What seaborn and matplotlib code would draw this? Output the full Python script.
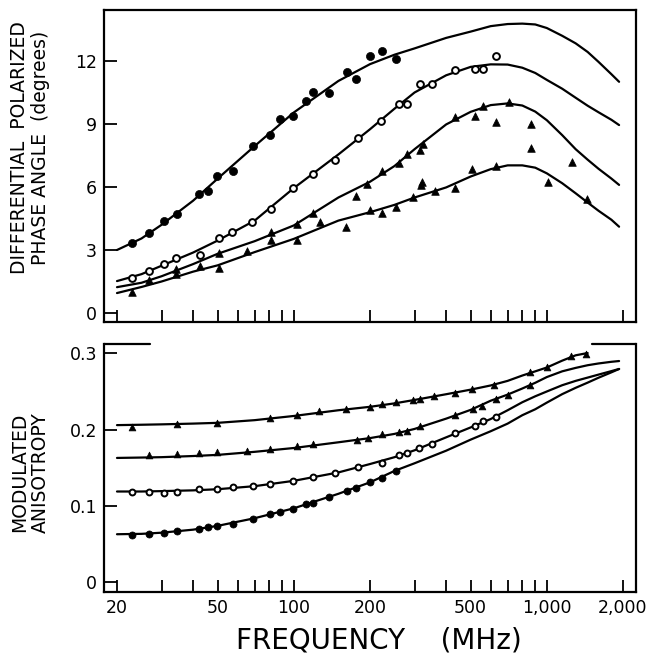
import numpy as np
import pandas as pd
import matplotlib
matplotlib.use("Agg")
import matplotlib.pyplot as plt
import matplotlib.ticker as mticker
import seaborn as sns

# ---------------- data ----------------
curve_freq = [20, 25, 30, 40, 50, 70, 100, 150, 200, 250, 300, 400, 500, 600, 700, 800,
              900, 1000, 1150, 1300, 1450, 1600, 1800, 1930]

# top panel: differential polarized phase angle (degrees)
curve_A = [3.0, 3.55, 4.2, 5.35, 6.4, 7.95, 9.55, 11.05, 11.85, 12.3, 12.6, 13.1, 13.4, 13.66, 13.76, 13.78,
           13.74, 13.57, 13.2, 12.84, 12.43, 11.96, 11.37, 11.01]
curve_B = [1.52, 1.85, 2.25, 2.88, 3.45, 4.4, 5.95, 7.55, 8.75, 9.73, 10.5, 11.32, 11.72, 11.84, 11.83, 11.68,
           11.43, 11.1, 10.68, 10.25, 9.87, 9.56, 9.2, 8.95]
curve_C = [1.23, 1.44, 1.75, 2.33, 2.82, 3.42, 4.17, 5.5, 6.25, 7.0, 7.8, 8.98, 9.58, 9.9, 9.98, 9.88,
           9.59, 9.18, 8.47, 7.8, 7.3, 6.87, 6.4, 6.1]
curve_D = [0.95, 1.24, 1.5, 1.97, 2.27, 2.9, 3.53, 4.4, 4.8, 5.15, 5.5, 5.98, 6.5, 6.85, 7.03, 7.03,
           6.92, 6.65, 6.18, 5.7, 5.26, 4.87, 4.44, 4.11]

pts_A_f = [22.9, 26.8, 30.7, 34.4, 42.1, 45.9, 49.7, 57.3, 69.2, 80.5, 88.2, 98.9, 111.4, 118.7, 137.7, 161.8, 176.6, 200, 222.4, 252.7]
pts_A_v = [3.35, 3.80, 4.38, 4.71, 5.68, 5.79, 6.54, 6.76, 7.97, 8.46, 9.22, 9.38, 10.11, 10.54, 10.49, 11.48, 11.14, 12.24, 12.46, 12.11]

pts_B_f = [23.0, 26.8, 30.7, 34.3, 42.5, 50.6, 57.2, 68.5, 81, 99.6, 118.7, 145, 179.8, 222, 261, 280.8, 315.4, 352.6, 434.8, 520, 561, 629.5]
pts_B_v = [1.65, 2.0, 2.33, 2.60, 2.76, 3.56, 3.87, 4.32, 4.94, 5.94, 6.62, 7.29, 8.32, 9.12, 9.94, 9.97, 10.90, 10.92, 11.57, 11.60, 11.60, 12.24]

pts_C_f = [26.8, 34.3, 50.6, 81.0, 103.2, 118.7, 176.1, 195.1, 222.4, 261, 279.3, 315.4, 323.1, 434.8, 520, 561, 629.5, 708.8, 865.6, 865.6, 1260]
pts_C_v = [1.57, 2.09, 2.87, 3.87, 4.23, 4.78, 5.57, 6.14, 6.78, 7.13, 7.57, 7.76, 8.05, 9.32, 9.38, 9.86, 9.11, 10.03, 8.98, 7.87, 7.2]

pts_D_f = [23.0, 34.3, 42.5, 50.6, 65.1, 81.0, 103.2, 126.9, 160.7, 200, 222.4, 253.4, 296.6, 318, 322, 361.4, 434.8, 507.4, 629.5, 1013, 1437]
pts_D_v = [1.01, 1.86, 2.24, 2.16, 2.95, 3.48, 3.48, 4.35, 4.08, 4.90, 4.77, 5.03, 5.51, 6.1, 6.25, 5.81, 5.94, 6.86, 7.0, 6.25, 5.41]

# bottom panel: modulated anisotropy
curve_E_f = [20, 25, 30, 40, 50, 70, 100, 150, 200, 250, 300, 400, 500, 600, 700, 800,
             900, 1000, 1150, 1300, 1450]
curve_E = [0.206, 0.2065, 0.207, 0.208, 0.209, 0.2125, 0.218, 0.2255, 0.230, 0.2345, 0.239, 0.2465, 0.2525, 0.258, 0.264, 0.271,
           0.2765, 0.2815, 0.2905, 0.2975, 0.3005]
curve_F = [0.163, 0.1635, 0.164, 0.1655, 0.167, 0.171, 0.176, 0.1835, 0.189, 0.1945, 0.201, 0.2145, 0.226, 0.238, 0.246, 0.254,
           0.2615, 0.269, 0.2765, 0.281, 0.2845, 0.2868, 0.289, 0.290]
curve_G = [0.119, 0.119, 0.1195, 0.1205, 0.122, 0.126, 0.133, 0.144, 0.155, 0.164, 0.173, 0.190, 0.203, 0.214, 0.2255, 0.236,
           0.2438, 0.2501, 0.2583, 0.264, 0.2683, 0.2722, 0.2768, 0.2796]
curve_H = [0.063, 0.0635, 0.065, 0.069, 0.074, 0.084, 0.097, 0.116, 0.131, 0.146, 0.156, 0.1725, 0.187, 0.198, 0.208, 0.219,
           0.2268, 0.2355, 0.2466, 0.2549, 0.2617, 0.2681, 0.2752, 0.2796]

pts_E_f = [22.9, 34.6, 49.7, 80.5, 103.2, 126.1, 160.7, 200, 222.4, 252.7, 295, 315.4, 358, 432.4, 504.7, 620, 858, 1004, 1243, 1428]
pts_E_v = [0.2035, 0.207, 0.209, 0.215, 0.2197, 0.2245, 0.2276, 0.2302, 0.2337, 0.2363, 0.2385, 0.2402, 0.2442, 0.2485, 0.2537, 0.2586, 0.2752, 0.2826, 0.2966, 0.2992]

pts_F_f = [26.8, 34.6, 42.1, 49.7, 65.1, 80.5, 103.2, 118.7, 177.2, 196, 222.4, 261, 279.3, 315.4, 434, 512, 555, 632, 704, 858]
pts_F_v = [0.1668, 0.168, 0.169, 0.1703, 0.1725, 0.1751, 0.1782, 0.1808, 0.1865, 0.1891, 0.194, 0.1974, 0.1987, 0.2049, 0.2193, 0.2267, 0.2311, 0.2398, 0.2455, 0.2586]

pts_G_f = [22.9, 26.8, 30.7, 34.4, 42.1, 49.7, 57.3, 69.2, 80.5, 98.9, 118.7, 145.8, 179.8, 222.4, 261, 279.3, 312.5, 350.7, 434, 520, 561, 632]
pts_G_v = [0.1184, 0.1188, 0.1175, 0.1188, 0.1219, 0.1219, 0.1253, 0.1262, 0.1284, 0.1328, 0.1384, 0.1428, 0.1515, 0.1568, 0.1668, 0.1691, 0.1756, 0.1813, 0.1961, 0.2049, 0.2114, 0.217]

pts_H_f = [22.9, 26.8, 30.7, 34.4, 42.1, 45.9, 49.7, 57.3, 69.2, 80.5, 88.2, 98.9, 111.4, 118.7, 137.7, 161.8, 176.6, 200, 222.4, 252.7]
pts_H_v = [0.0624, 0.0633, 0.065, 0.0668, 0.0703, 0.0721, 0.0742, 0.0764, 0.0834, 0.0895, 0.0917, 0.0961, 0.1022, 0.1043, 0.1114, 0.1201, 0.124, 0.1318, 0.1371, 0.1463]

x_major = [20, 50, 100, 200, 500, 1000, 2000]
x_major_labels = ["20", "50", "100", "200", "500", "1,000", "2,000"]
x_minor = [30, 40, 60, 70, 80, 90, 300, 400, 600, 700, 800, 900]
top_yticks = [0, 3, 6, 9, 12]
bot_yticks = [0, 0.1, 0.2, 0.3]
bot_ylabels = ["0", "0.1", "0.2", "0.3"]

# ---------------- style ----------------
sns.set_style("ticks")
plt.rcParams["font.family"] = ["DejaVu Sans"]
plt.rcParams["text.color"] = "black"
plt.rcParams["axes.labelcolor"] = "black"

W, H = 649, 655
fig = plt.figure(figsize=(W / 100, H / 100), dpi=100)

def fig_rect(l, t, r, b):
    return [l / W, 1 - b / H, (r - l) / W, (b - t) / H]

ax1 = fig.add_axes(fig_rect(104, 10, 636, 322))
ax2 = fig.add_axes(fig_rect(104, 344, 636, 592))

LW = 1.6

def draw_curve(ax, f, v):
    sns.lineplot(x=f, y=v, ax=ax, color="black", lw=LW, sort=False, estimator=None)

def draw_pts(ax, f, v, kind, s):
    if kind == "filled_circle":
        sns.scatterplot(x=f, y=v, ax=ax, marker="o", s=s, color="black", edgecolor="black", linewidth=0.5, zorder=3)
    elif kind == "open_circle":
        sns.scatterplot(x=f, y=v, ax=ax, marker="o", s=s, facecolor="white", edgecolor="black", linewidth=1.4, zorder=3)
    else:
        sns.scatterplot(x=f, y=v, ax=ax, marker="^", s=s, color="black", edgecolor="black", linewidth=0.5, zorder=3)

# top panel
for cv in (curve_A, curve_B, curve_C, curve_D):
    draw_curve(ax1, curve_freq, cv)
draw_pts(ax1, pts_A_f, pts_A_v, "filled_circle", 34)
draw_pts(ax1, pts_B_f, pts_B_v, "open_circle", 24)
draw_pts(ax1, pts_C_f, pts_C_v, "triangle", 30)
draw_pts(ax1, pts_D_f, pts_D_v, "triangle", 30)

# bottom panel
draw_curve(ax2, curve_E_f, curve_E)
for cv in (curve_F, curve_G, curve_H):
    draw_curve(ax2, curve_freq, cv)
draw_pts(ax2, pts_E_f, pts_E_v, "triangle", 24)
draw_pts(ax2, pts_F_f, pts_F_v, "triangle", 24)
draw_pts(ax2, pts_G_f, pts_G_v, "open_circle", 18)
draw_pts(ax2, pts_H_f, pts_H_v, "filled_circle", 26)

xlo = 10 ** (np.log10(20) - 13 / 253)
xhi = 10 ** (np.log10(2000) + 13 / 253)

for ax in (ax1, ax2):
    ax.set_xscale("log")
    ax.set_xlim(xlo, xhi)
    ax.xaxis.set_major_locator(mticker.FixedLocator(x_major))
    ax.xaxis.set_minor_locator(mticker.FixedLocator(x_minor))
    ax.xaxis.set_minor_formatter(mticker.NullFormatter())
    ax.tick_params(axis="both", which="both", direction="in", length=9, width=1.3,
                   color="black", labelsize=12.5, labelcolor="black", pad=5)
    ax.tick_params(axis="y", which="both", right=False)
    ax.tick_params(axis="x", which="both", top=False)
    for sp in ax.spines.values():
        sp.set_linewidth(1.6)
        sp.set_color("black")
    ax.set_xlabel("")
    ax.set_facecolor("white")

ax1.set_ylim((313 - 322) / 21, (313 - 10) / 21)
ax1.set_yticks(top_yticks)
ax1.set_yticklabels([str(t) for t in top_yticks])
ax1.xaxis.set_major_formatter(mticker.NullFormatter())
ax1.set_ylabel("DIFFERENTIAL  POLARIZED\nPHASE ANGLE  (degrees)", fontsize=13.5, linespacing=1.15, color="black")
ax1.yaxis.set_label_coords(-0.1015, 0.558)

ax2.set_ylim((582.3 - 592) / 763, (582.3 - 344) / 763)
ax2.set_yticks(bot_yticks)
ax2.set_yticklabels(bot_ylabels)
ax2.xaxis.set_major_formatter(mticker.FixedFormatter(x_major_labels))
ax2.set_ylabel("MODULATED\nANISOTROPY", fontsize=13.5, linespacing=1.15, color="black")
ax2.yaxis.set_label_coords(-0.1015, 0.483)

# partial top border on the lower panel
ax2.spines["top"].set_visible(False)
ax2.plot([0, 0.0865], [1, 1], transform=ax2.transAxes, color="black", lw=1.6, clip_on=False)
ax2.plot([0.917, 1.0], [1, 1], transform=ax2.transAxes, color="black", lw=1.6, clip_on=False)

fig.text(0.584, 1 - 640 / H, "FREQUENCY    (MHz)", ha="center", va="center", fontsize=20, color="black")

fig.savefig("out.png", dpi=100, facecolor="white")
